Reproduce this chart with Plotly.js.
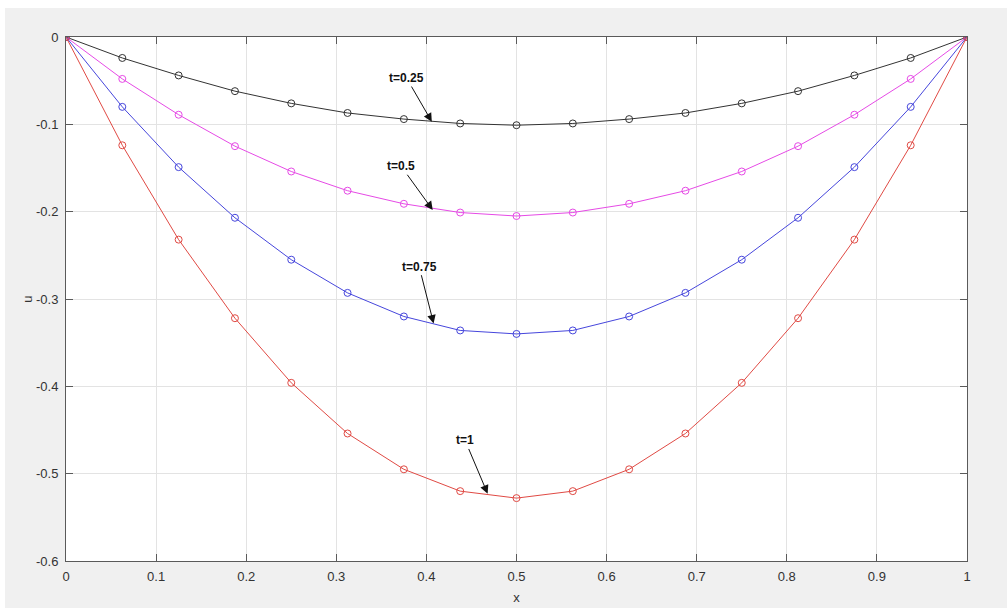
<!DOCTYPE html>
<html>
<head>
<meta charset="utf-8">
<script src="https://cdn.plot.ly/plotly-3.0.1.min.js"></script>
<style>
  html, body { margin: 0; padding: 0; background: #ffffff; }
  #myGraph { position: absolute; left: 5px; top: 8px; width: 1002px; height: 600px; }
</style>
</head>
<body>
<div id="myGraph"></div>
<script>
// x 網格點 (0 ~ 1, 17 點)
let xs = [0, 0.0625, 0.125, 0.1875, 0.25, 0.3125, 0.375, 0.4375, 0.5,
          0.5625, 0.625, 0.6875, 0.75, 0.8125, 0.875, 0.9375, 1];

// 各時間的 u 值
let u025 = [0, -0.024, -0.044, -0.062, -0.076, -0.087, -0.094, -0.099, -0.101,
            -0.099, -0.094, -0.087, -0.076, -0.062, -0.044, -0.024, 0];
let u050 = [0, -0.048, -0.089, -0.125, -0.154, -0.176, -0.191, -0.201, -0.205,
            -0.201, -0.191, -0.176, -0.154, -0.125, -0.089, -0.048, 0];
let u075 = [0, -0.080, -0.149, -0.207, -0.255, -0.293, -0.320, -0.336, -0.340,
            -0.336, -0.320, -0.293, -0.255, -0.207, -0.149, -0.080, 0];
let u100 = [0, -0.124, -0.232, -0.322, -0.396, -0.454, -0.495, -0.520, -0.528,
            -0.520, -0.495, -0.454, -0.396, -0.322, -0.232, -0.124, 0];

// 刻度
let xTickVals = [0, 0.1, 0.2, 0.3, 0.4, 0.5, 0.6, 0.7, 0.8, 0.9, 1];
let xTickText = ['0', '0.1', '0.2', '0.3', '0.4', '0.5', '0.6', '0.7', '0.8', '0.9', '1'];
let yTickVals = [-0.6, -0.5, -0.4, -0.3, -0.2, -0.1, 0];
let yTickText = ['-0.6', '-0.5', '-0.4', '-0.3', '-0.2', '-0.1', '0'];

// 標註文字、文字位置、箭頭位置
let labels = ['t=0.25', 't=0.5', 't=0.75', 't=1'];
let labelX = [0.378, 0.372, 0.392, 0.443];
let labelY = [-0.047, -0.148, -0.263, -0.462];
let arrowX = [0.406, 0.407, 0.408, 0.468];
let arrowY = [-0.097, -0.198, -0.328, -0.523];

function makeTrace(y, color, name) {
    return {
        type: 'scatter',
        mode: 'lines+markers',
        name: name,
        x: xs,
        y: y,
        line: {color: color, width: 1},
        marker: {symbol: 'circle-open', size: 7, color: color, line: {width: 1, color: color}}
    };
}

let data = [];
data.push(makeTrace(u025, '#333333', 't=0.25'));
data.push(makeTrace(u050, '#e64ae6', 't=0.5'));
data.push(makeTrace(u075, '#4646dc', 't=0.75'));
data.push(makeTrace(u100, '#e04a44', 't=1'));

let annotations = [];
for (let i = 0; i < labels.length; i++) {
    annotations.push({
        x: arrowX[i], y: arrowY[i],
        ax: labelX[i], ay: labelY[i],
        xref: 'x', yref: 'y', axref: 'x', ayref: 'y',
        text: '<b>' + labels[i] + '</b>',
        showarrow: true,
        arrowhead: 2,
        arrowsize: 1.7,
        arrowwidth: 1,
        arrowcolor: '#111111',
        standoff: 0,
        font: {family: 'Liberation Sans, Arial, sans-serif', size: 12, color: '#111111'}
    });
}

let axisCommon = {
    showgrid: true,
    gridcolor: '#e3e3e3',
    gridwidth: 1,
    zeroline: false,
    showline: true,
    linecolor: '#5a5a5a',
    linewidth: 1,
    mirror: 'ticks',
    ticks: 'inside',
    ticklen: 7,
    tickcolor: '#5a5a5a',
    tickfont: {family: 'Liberation Sans, Arial, sans-serif', size: 13, color: '#333333'}
};

let layout = {
    width: 1002,
    height: 600,
    margin: {l: 61, r: 40, t: 29, b: 47},
    paper_bgcolor: '#f0f0f0',
    plot_bgcolor: '#ffffff',
    showlegend: false,
    xaxis: Object.assign({}, axisCommon, {
        range: [0, 1],
        tickmode: 'array',
        tickvals: xTickVals,
        ticktext: xTickText,
        ticklabelstandoff: 3,
        title: {text: 'x', standoff: 10, font: {family: 'Liberation Sans, Arial, sans-serif', size: 13, color: '#333333'}}
    }),
    yaxis: Object.assign({}, axisCommon, {
        range: [-0.6, 0],
        tickmode: 'array',
        tickvals: yTickVals,
        ticktext: yTickText,
        ticklabelstandoff: 4,
        title: {text: 'u', standoff: 0, font: {family: 'Liberation Sans, Arial, sans-serif', size: 13, color: '#333333'}}
    }),
    annotations: annotations
};

Plotly.newPlot('myGraph', data, layout, {displayModeBar: false});
</script>
</body>
</html>
